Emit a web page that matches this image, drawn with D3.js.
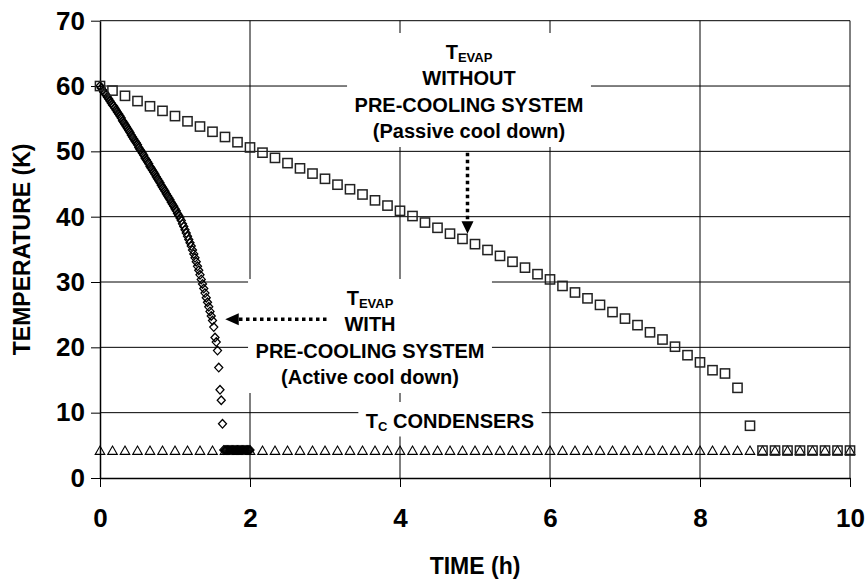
<!DOCTYPE html>
<html>
<head>
<meta charset="utf-8">
<script src="https://cdn.jsdelivr.net/npm/d3@7"></script>
<style>
body { margin: 0; background: #fff; }
text { font-family: "Liberation Sans", Arial, sans-serif; font-weight: bold; fill: #000; }
</style>
</head>
<body>
<svg id="chart" width="867" height="585"></svg>
<script>
// hours between samples of each series
const activeStep = 1 / 60;
const passiveStep = 10 / 60;
const condStep = 10 / 60;

// T_EVAP with pre-cooling (active cool down), one reading per minute
const activeTemp = [
    60.0, 59.7, 59.4, 59.1, 58.9, 58.6, 58.3, 58.0, 57.7, 57.4,
    57.1, 56.9, 56.6, 56.3, 56.0, 55.7, 55.4, 55.1, 54.7, 54.4,
    54.1, 53.8, 53.5, 53.2, 52.9, 52.5, 52.2, 51.9, 51.6, 51.3,
    51.0, 50.6, 50.3, 50.0, 49.7, 49.4, 49.0, 48.7, 48.4, 48.1,
    47.7, 47.4, 47.1, 46.8, 46.5, 46.1, 45.8, 45.5, 45.2, 44.8,
    44.5, 44.2, 43.9, 43.5, 43.2, 42.9, 42.6, 42.2, 41.9, 41.6,
    41.2, 40.9, 40.5, 40.2, 39.8, 39.4, 38.9, 38.5, 38.0, 37.5,
    37.0, 36.5, 36.0, 35.5, 34.9, 34.3, 33.7, 33.1, 32.4, 31.8,
    31.1, 30.4, 29.7, 29.0, 28.3, 27.6, 26.9, 26.2, 25.5, 24.8,
    24.1, 23.1, 21.5, 20.8, 19.5, 16.9, 13.5, 11.9, 8.3, 4.3,
    4.3, 4.3, 4.3, 4.3, 4.3, 4.3, 4.3, 4.3, 4.3, 4.3,
    4.3, 4.3, 4.3, 4.3, 4.3, 4.3, 4.3, 4.3, 4.3, 4.3,
    4.3
];

// T_EVAP without pre-cooling (passive cool down), every 10 min
const passiveTemp = [
    60.0, 59.3, 58.5, 57.7, 56.9, 56.2, 55.4, 54.6, 53.8, 53.0,
    52.2, 51.4, 50.6, 49.8, 49.0, 48.2, 47.4, 46.6, 45.8, 44.9,
    44.2, 43.4, 42.5, 41.7, 40.9, 40.1, 39.1, 38.3, 37.4, 36.6,
    35.8, 34.9, 34.0, 33.1, 32.2, 31.2, 30.4, 29.4, 28.4, 27.5,
    26.5, 25.4, 24.4, 23.4, 22.3, 21.2, 20.1, 18.8, 17.7, 16.5,
    16.0, 13.8, 8.0, 4.2, 4.2, 4.2, 4.2, 4.2, 4.2, 4.2,
    4.2
];

// T_C condensers, every 10 min
const condTemp = [
    4.2, 4.2, 4.2, 4.2, 4.2, 4.2, 4.2, 4.2, 4.2, 4.2,
    4.2, 4.2, 4.2, 4.2, 4.2, 4.2, 4.2, 4.2, 4.2, 4.2,
    4.2, 4.2, 4.2, 4.2, 4.2, 4.2, 4.2, 4.2, 4.2, 4.2,
    4.2, 4.2, 4.2, 4.2, 4.2, 4.2, 4.2, 4.2, 4.2, 4.2,
    4.2, 4.2, 4.2, 4.2, 4.2, 4.2, 4.2, 4.2, 4.2, 4.2,
    4.2, 4.2, 4.2, 4.2, 4.2, 4.2, 4.2, 4.2, 4.2, 4.2,
    4.2
];

const xTicks = [0, 2, 4, 6, 8, 10];
const yTicks = [0, 10, 20, 30, 40, 50, 60, 70];

const svg = d3.select("#chart");
svg.append("rect").attr("width", 867).attr("height", 585).attr("fill", "#fff");

const x = d3.scaleLinear().domain([0, 10]).range([100, 850]);
const y = d3.scaleLinear().domain([0, 70]).range([478, 20.7]);

// grid
const grid = svg.append("g").attr("stroke", "#000").attr("stroke-width", 1);
grid.selectAll("line.h")
    .data(yTicks.filter((d) => d > 0))
    .join("line")
    .attr("x1", x(0)).attr("x2", x(10))
    .attr("y1", (d) => y(d)).attr("y2", (d) => y(d));
grid.selectAll("line.v")
    .data(xTicks.filter((d) => d > 0))
    .join("line")
    .attr("y1", y(0)).attr("y2", y(70))
    .attr("x1", (d) => x(d)).attr("x2", (d) => x(d));

// axes
const xAxis = svg.append("g")
    .attr("transform", `translate(0,${y(0)})`)
    .call(d3.axisBottom(x).tickValues(xTicks).tickSize(9).tickPadding(22).tickSizeOuter(0));
const yAxis = svg.append("g")
    .attr("transform", `translate(${x(0)},0)`)
    .call(d3.axisLeft(y).tickValues(yTicks).tickSize(9).tickPadding(6).tickSizeOuter(0));
for (const ax of [xAxis, yAxis]) {
    ax.select(".domain").attr("stroke", "#000").attr("stroke-width", 1.5);
    ax.selectAll(".tick line").attr("stroke", "#000");
    ax.selectAll(".tick text")
        .attr("font-family", '"Liberation Sans", Arial, sans-serif')
        .attr("font-weight", "bold")
        .attr("font-size", 26)
        .attr("fill", "#000");
}

svg.append("text")
    .attr("x", x(5)).attr("y", 574)
    .attr("text-anchor", "middle")
    .attr("font-size", 23)
    .text("TIME (h)");
svg.append("text")
    .attr("transform", `translate(30,${(y(0) + y(70)) / 2}) rotate(-90)`)
    .attr("text-anchor", "middle")
    .attr("font-size", 23)
    .text("TEMPERATURE (K)");

// annotation boxes: white fill hides the grid behind them
function label(cx, top, lines) {
    const g = svg.append("g");
    const bg = g.append("rect").attr("fill", "#fff");
    const t = g.append("text").attr("text-anchor", "middle").attr("font-size", 20);
    lines.forEach((ln, i) => {
        const row = t.append("tspan").attr("x", cx).attr("y", top + 25.5 + i * 26.5);
        if (typeof ln === "string") {
            row.text(ln);
        } else {
            row.append("tspan").text(ln.main);
            row.append("tspan").attr("font-size", 13).attr("dy", 3.5).text(ln.sub);
            if (ln.rest) row.append("tspan").attr("dy", -3.5).text(ln.rest);
        }
    });
    const bb = t.node().getBBox();
    const h = lines.length * 26.5 + 8;
    bg.attr("x", bb.x - 7.5).attr("width", bb.width + 15)
        .attr("y", top).attr("height", h);
}

label(469, 33, [
    { main: "T", sub: "EVAP" },
    "WITHOUT",
    "PRE-COOLING SYSTEM",
    "(Passive cool down)",
]);
label(370, 279, [
    { main: "T", sub: "EVAP" },
    "WITH",
    "PRE-COOLING SYSTEM",
    "(Active cool down)",
]);
label(450, 402, [{ main: "T", sub: "C", rest: " CONDENSERS" }]);

// markers, no fill so the grid shows through
const marks = svg.append("g").attr("fill", "none").attr("stroke", "#000");

marks.append("g").attr("stroke-width", 1.1)
    .selectAll("path")
    .data(condTemp)
    .join("path")
    .attr("d", (d, i) => {
        const cx = x(i * condStep), cy = y(d);
        return `M${cx},${cy - 4.5}L${cx + 4.8},${cy + 3.8}L${cx - 4.8},${cy + 3.8}Z`;
    });

marks.append("g").attr("stroke-width", 1.3)
    .selectAll("path")
    .data(activeTemp)
    .join("path")
    .attr("d", (d, i) => {
        const cx = x(i * activeStep), cy = y(d);
        return `M${cx},${cy - 4.3}L${cx + 4},${cy}L${cx},${cy + 4.3}L${cx - 4},${cy}Z`;
    });

marks.append("g").attr("stroke-width", 1.5).attr("stroke", "#222")
    .selectAll("rect")
    .data(passiveTemp)
    .join("rect")
    .attr("x", (d, i) => x(i * passiveStep) - 4.6)
    .attr("y", (d) => y(d) - 4.6)
    .attr("width", 9.2)
    .attr("height", 9.2);

// dotted arrows
const arrows = svg.append("g");
const ax1 = x(4.9);
arrows.append("line")
    .attr("x1", ax1).attr("x2", ax1)
    .attr("y1", y(49.8)).attr("y2", y(39.2))
    .attr("stroke", "#000").attr("stroke-width", 3.5)
    .attr("stroke-dasharray", "3.5,3.5");
arrows.append("path")
    .attr("d", `M${ax1 - 6},${y(39.3)}L${ax1 + 6},${y(39.3)}L${ax1},${y(37.4)}Z`)
    .attr("fill", "#000");

const ay2 = y(24.3);
arrows.append("line")
    .attr("x1", x(3.02)).attr("x2", x(1.84))
    .attr("y1", ay2).attr("y2", ay2)
    .attr("stroke", "#000").attr("stroke-width", 3.5)
    .attr("stroke-dasharray", "3.5,3.5");
arrows.append("path")
    .attr("d", `M${x(1.85)},${ay2 - 6}L${x(1.85)},${ay2 + 6}L${x(1.67)},${ay2}Z`)
    .attr("fill", "#000");
</script>
</body>
</html>
